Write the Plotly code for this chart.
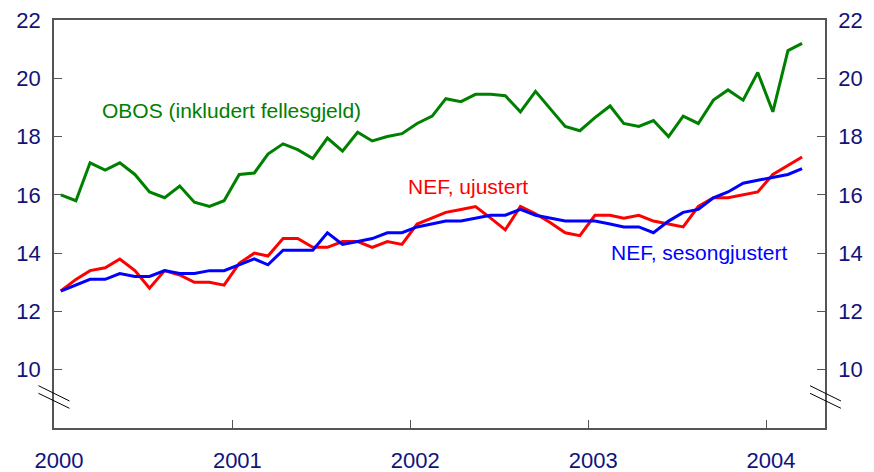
import pandas as pd
import plotly.graph_objects as go

# Monthly observations, Jan 2000 - Mar 2004 (plotted mid-month)
months = (pd.date_range(start="2000-01-01", periods=51, freq="MS") + pd.Timedelta(days=14)).strftime("%Y-%m-%d").tolist()

obos = [16.0, 15.8, 17.1, 16.85, 17.1, 16.7, 16.1, 15.9, 16.3, 15.75, 15.6, 15.8,
        16.7, 16.75, 17.4, 17.75, 17.55, 17.25, 17.95, 17.5, 18.15, 17.85, 18.0, 18.1,
        18.45, 18.7, 19.3, 19.2, 19.45, 19.45, 19.4, 18.85, 19.55, 18.95, 18.35, 18.2,
        18.65, 19.05, 18.45, 18.35, 18.55, 18.0, 18.7, 18.45, 19.25, 19.6, 19.25, 20.2,
        18.85, 20.95, 21.2]

nef_ujustert = [12.7, 13.1, 13.4, 13.5, 13.8, 13.4, 12.8, 13.4, 13.25, 13.0, 13.0, 12.9,
                13.65, 14.0, 13.9, 14.5, 14.5, 14.2, 14.2, 14.4, 14.4, 14.2, 14.4, 14.3,
                15.0, 15.2, 15.4, 15.5, 15.6, 15.2, 14.8, 15.6, 15.35, 15.05, 14.7, 14.6,
                15.3, 15.3, 15.2, 15.3, 15.1, 15.0, 14.9, 15.6, 15.9, 15.9, 16.0, 16.1,
                16.7, 17.0, 17.3]

nef_sesong = [12.7, 12.9, 13.1, 13.1, 13.3, 13.2, 13.2, 13.4, 13.3, 13.3, 13.4, 13.4,
              13.6, 13.8, 13.6, 14.1, 14.1, 14.1, 14.7, 14.3, 14.4, 14.5, 14.7, 14.7,
              14.9, 15.0, 15.1, 15.1, 15.2, 15.3, 15.3, 15.5, 15.3, 15.2, 15.1, 15.1,
              15.1, 15.0, 14.9, 14.9, 14.7, 15.1, 15.4, 15.5, 15.9, 16.1, 16.4, 16.5,
              16.6, 16.7, 16.9]

year_ticks = ["2000-01-01", "2001-01-01", "2002-01-01", "2003-01-01", "2004-01-01"]
year_labels = ["2000", "2001", "2002", "2003", "2004"]
y_ticks = [8, 10, 12, 14, 16, 18, 20, 22]
y_labels = ["", "10", "12", "14", "16", "18", "20", "22"]

FONT = "Liberation Sans, Arial, sans-serif"
NAVY = "#12127a"
AXIS = "#555555"

fig = go.Figure()
fig.add_trace(go.Scatter(x=months, y=obos, mode="lines", line=dict(color="#008000", width=3), name="OBOS"))
fig.add_trace(go.Scatter(x=months, y=nef_ujustert, mode="lines", line=dict(color="#ff0000", width=3), name="NEF, ujustert"))
fig.add_trace(go.Scatter(x=months, y=nef_sesong, mode="lines", line=dict(color="#0000ff", width=3), name="NEF, sesongjustert"))
fig.add_trace(go.Scatter(x=[], y=[], yaxis="y2", showlegend=False, hoverinfo="skip"))

common_y = dict(
    range=[8, 22], tickvals=y_ticks, ticktext=y_labels,
    ticks="inside", ticklen=8, tickcolor=AXIS, tickwidth=1.2,
    showline=True, linecolor=AXIS, linewidth=1.5,
    showgrid=False, zeroline=False, automargin=False,
    tickfont=dict(size=22, color=NAVY, family=FONT),
    ticklabelstandoff=7, ticklabeloverflow="allow",
)

# page body has an 8px margin, so the figure is sized to fit the 874x472 window
fig.update_layout(
    width=866, height=464,
    margin=dict(l=46, r=49, t=12, b=44, autoexpand=False),
    paper_bgcolor="white", plot_bgcolor="white",
    showlegend=False,
    font=dict(family=FONT, color=NAVY, size=22),
    xaxis=dict(
        type="date", range=["2000-01-01", "2004-05-01"],
        tickvals=year_ticks, ticktext=year_labels,
        ticks="inside", ticklen=8, tickcolor=AXIS, tickwidth=1.2,
        showline=True, linecolor=AXIS, linewidth=1.5, mirror=True,
        showgrid=False, zeroline=False, automargin=False,
        tickfont=dict(size=22, color=NAVY, family=FONT),
        ticklabelshift=5, ticklabelstandoff=12, ticklabeloverflow="allow",
    ),
    yaxis=common_y,
    yaxis2=dict(overlaying="y", side="right", **common_y),
)

ann_font = dict(family=FONT, size=21)
fig.add_annotation(x=0.2296, y=0.777, xref="paper", yref="paper", text="OBOS (inkludert fellesgjeld)",
                   showarrow=False, font=dict(**ann_font, color="#008000"), xanchor="center", yanchor="middle")
fig.add_annotation(x=0.5376, y=0.593, xref="paper", yref="paper", text="NEF, ujustert",
                   showarrow=False, font=dict(**ann_font, color="#ff0000"), xanchor="center", yanchor="middle")
fig.add_annotation(x=0.836, y=0.429, xref="paper", yref="paper", text="NEF, sesongjustert",
                   showarrow=False, font=dict(**ann_font, color="#0000ff"), xanchor="center", yanchor="middle")

# axis break marks
for x0, x1 in [(-0.0201, 0.0201), (0.9806, 1.0207)]:
    for y0, y1 in [(0.1037, 0.0662), (0.0850, 0.0483)]:
        fig.add_shape(type="line", xref="paper", yref="paper", x0=x0, x1=x1, y0=y0, y1=y1,
                      line=dict(color="black", width=1))

fig.write_html("out.html")
